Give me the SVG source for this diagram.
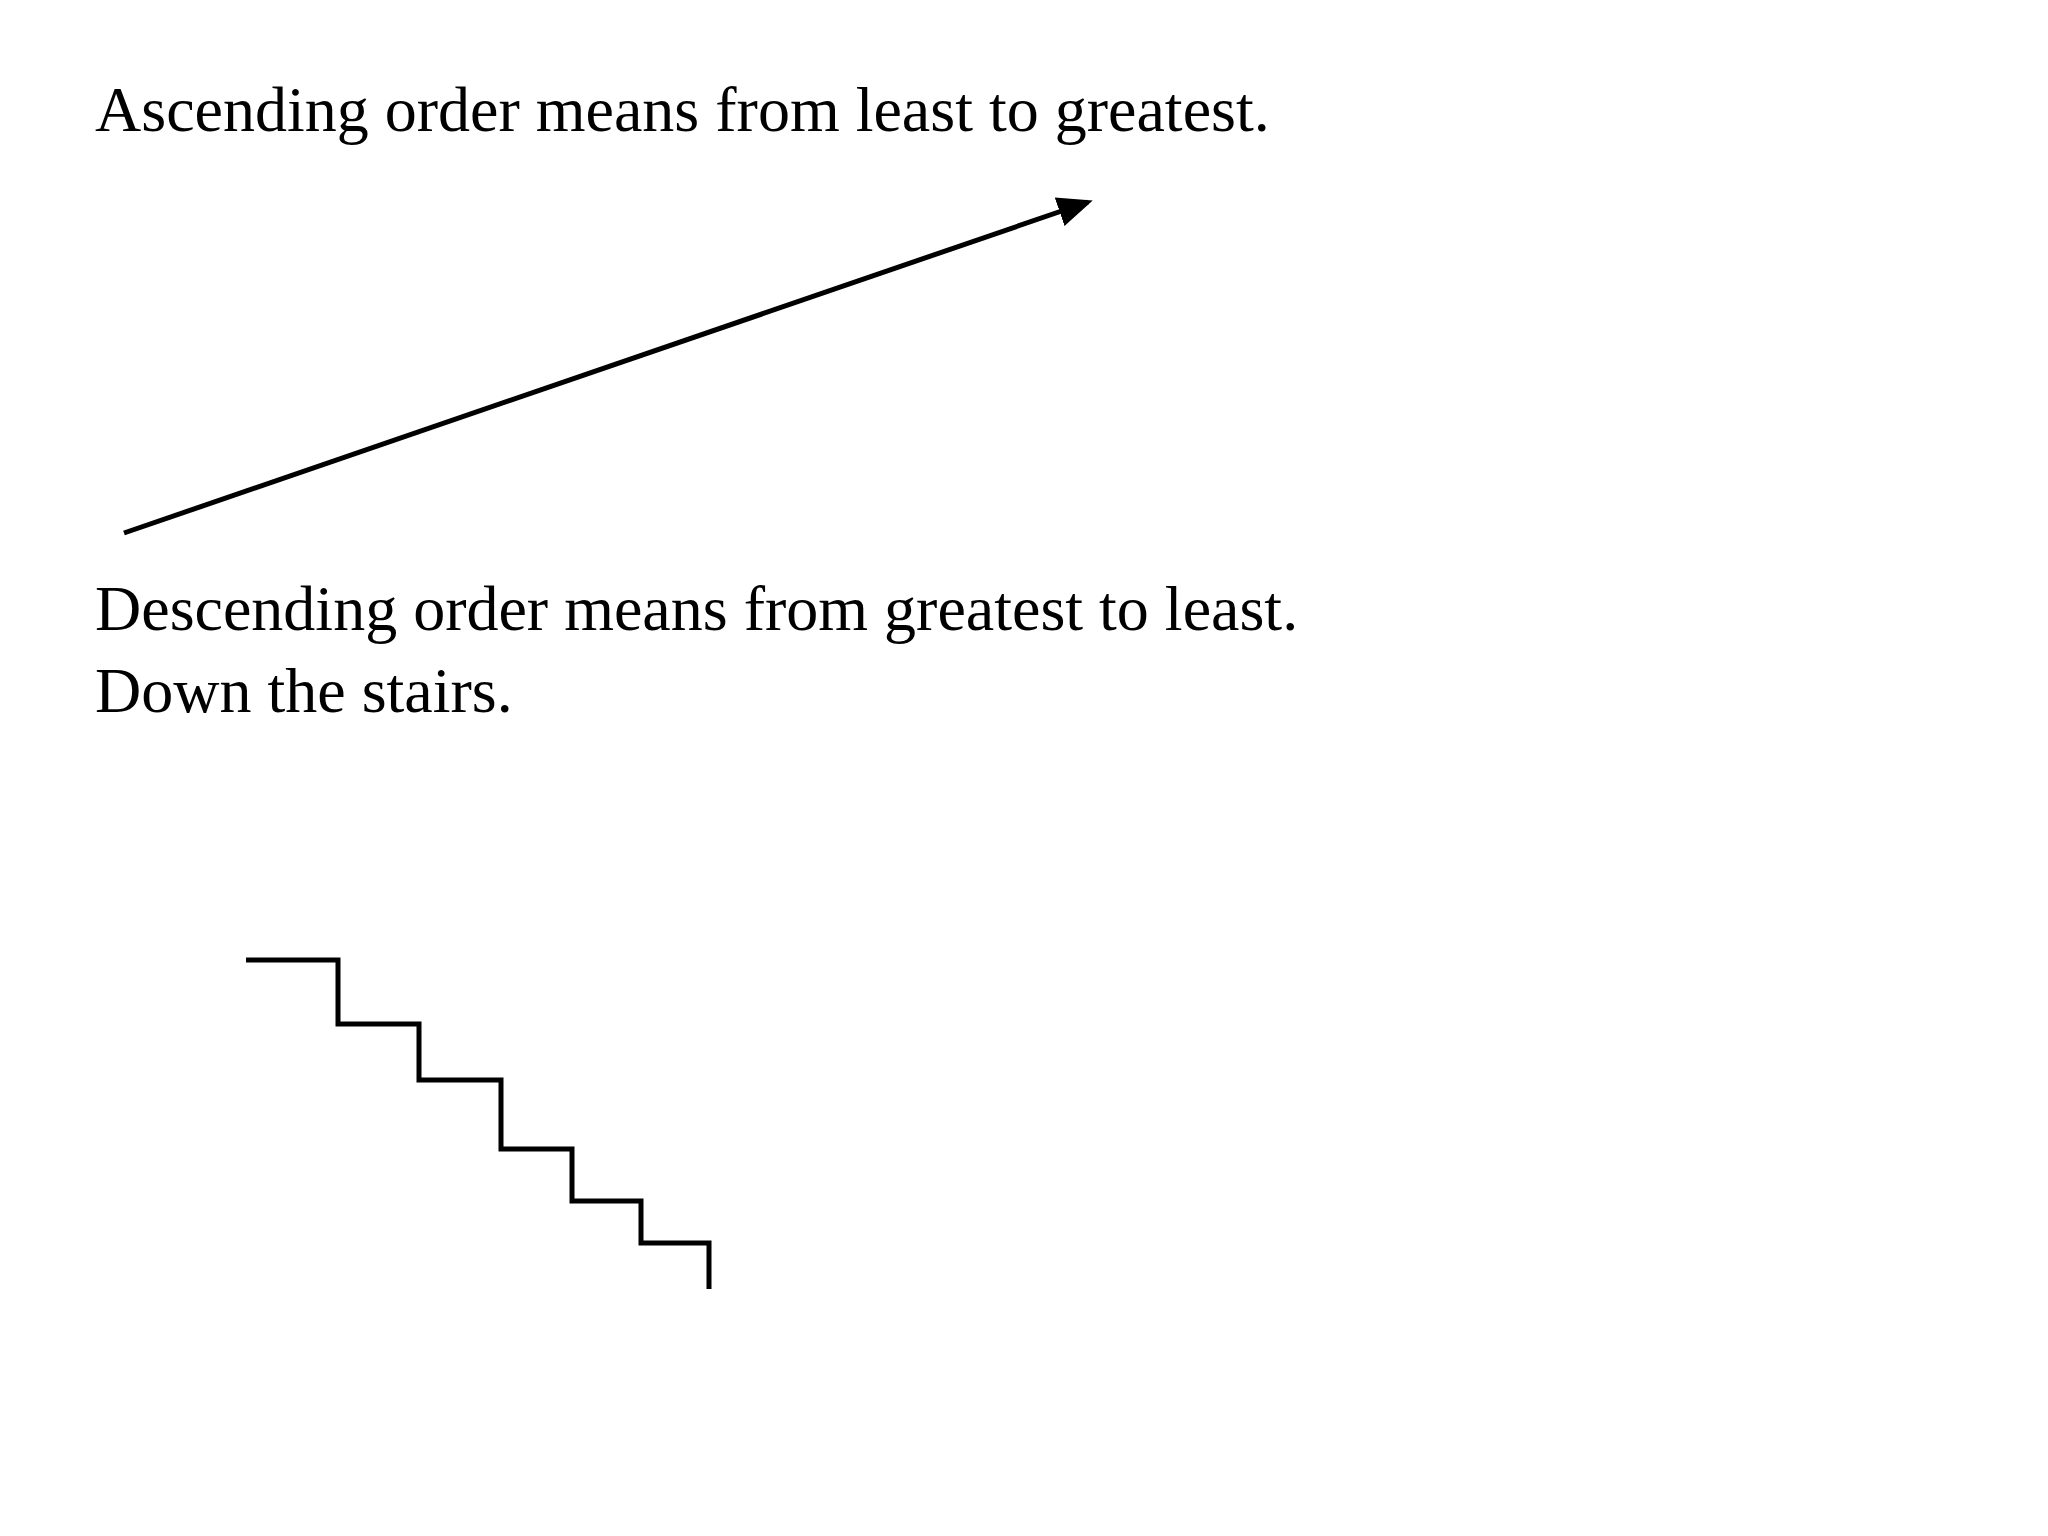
<svg xmlns="http://www.w3.org/2000/svg" width="2048" height="1536" viewBox="0 0 2048 1536">
<style>
text{font-family:"Liberation Serif","Times New Roman",serif;font-size:64px;fill:#000}
.ln{stroke:#000;stroke-width:5;fill:none}
</style>
<defs><marker id="ah" markerWidth="8" markerHeight="8" refX="6" refY="4" orient="auto" markerUnits="strokeWidth"><path d="M0,1 L7,4 L0,7 Z" fill="#000"/></marker></defs>
<rect width="2048" height="1536" fill="#fff"/>
<g id="texts">
<text x="95" y="131">Ascending order means from least to greatest.</text>
<text x="95" y="630">Descending order means from greatest to least.</text>
<text x="95" y="712">Down the stairs.</text>
</g>
<g id="connectors">
<line class="ln" x1="124" y1="533" x2="1088" y2="202" marker-end="url(#ah)"/>
<polyline class="ln" points="246,960 338,960 338,1024 419,1024 419,1080 501,1080 501,1149 572,1149 572,1201 641,1201 641,1243 709,1243 709,1289"/>
</g>
</svg>
